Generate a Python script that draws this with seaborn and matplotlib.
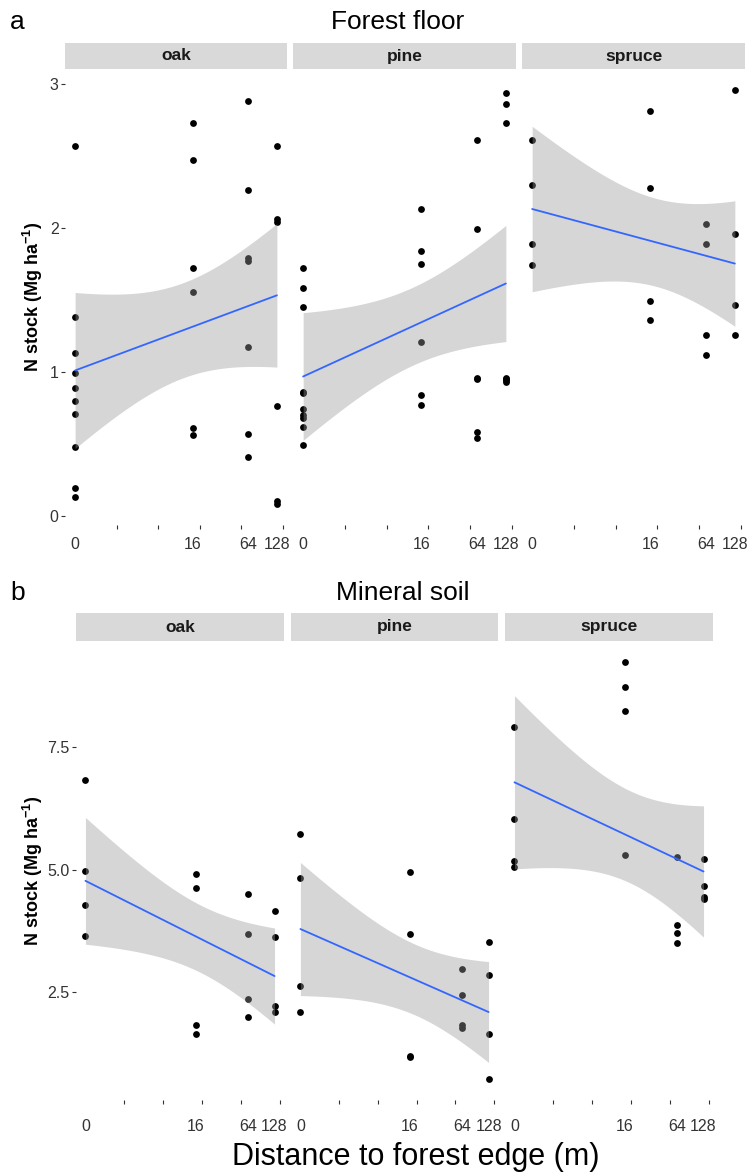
import math
import numpy as np
import pandas as pd
import matplotlib
matplotlib.use("Agg")
import matplotlib.pyplot as plt
import seaborn as sns

# ---- data: N stock (Mg ha-1) by distance to forest edge (m) ----
species = ["oak", "pine", "spruce"]
distance_breaks = [0, 16, 64, 128]
distance_labels = ["0", "16", "64", "128"]

# Forest floor
ff_oak = {0: [2.57, 1.38, 1.13, 0.99, 0.89, 0.80, 0.71, 0.48, 0.19, 0.13],
          16: [2.73, 2.47, 1.72, 1.555, 0.61, 0.56],
          64: [2.88, 2.26, 1.79, 1.77, 1.17, 0.57, 0.41],
          128: [2.57, 2.06, 2.04, 0.76, 0.10, 0.08]}
ff_pine = {0: [1.72, 1.58, 1.45, 0.86, 0.85, 0.74, 0.70, 0.68, 0.615, 0.495],
           16: [2.13, 1.84, 1.75, 1.21, 0.84, 0.77],
           64: [2.61, 1.995, 0.96, 0.95, 0.58, 0.54],
           128: [2.94, 2.86, 2.73, 0.96, 0.95, 0.94, 0.93]}
ff_spruce = {0: [2.61, 2.295, 1.885, 1.745],
             16: [2.81, 2.274, 1.49, 1.36],
             64: [2.03, 1.885, 1.255, 1.12],
             128: [2.96, 1.96, 1.465, 1.255]}

# Mineral soil
ms_oak = {0: [6.82, 4.96, 4.28, 3.64],
          16: [4.90, 4.63, 1.84, 1.65],
          64: [4.51, 3.69, 2.36, 1.99],
          128: [4.15, 3.63, 2.23, 2.09]}
ms_pine = {0: [5.73, 4.82, 2.63, 2.09],
           16: [4.95, 3.69, 1.21, 1.18],
           64: [2.97, 2.45, 1.83, 1.78],
           128: [3.53, 2.85, 1.65, 0.73]}
ms_spruce = {0: [7.90, 6.03, 5.18, 5.06],
             16: [9.23, 8.71, 8.22, 5.29],
             64: [5.25, 3.86, 3.70, 3.51],
             128: [5.22, 4.67, 4.45, 4.40]}

layers = ["Forest floor", "Mineral soil"]
panel_letters = ["a", "b"]
layer_data = {"Forest floor": [ff_oak, ff_pine, ff_spruce],
              "Mineral soil": [ms_oak, ms_pine, ms_spruce]}
y_breaks = {"Forest floor": [0, 1, 2, 3], "Mineral soil": [2.5, 5.0, 7.5]}
y_tick_labels = {"Forest floor": ["0", "1", "2", "3"],
                 "Mineral soil": ["2.5", "5.0", "7.5"]}

rows = []
for layer in layers:
    for sp, table in zip(species, layer_data[layer]):
        for dist, vals in table.items():
            for v in vals:
                rows.append((layer, sp, dist, v))
df = pd.DataFrame(rows, columns=["layer", "species", "distance", "n_stock"])
df["x"] = np.log(df["distance"] + 1.0)


# ---- linear fit with 95 % confidence band ----
def t_quantile(p, dof):
    xs = np.linspace(0.0, 30.0, 300001)
    c = math.gamma((dof + 1) / 2) / (math.sqrt(dof * math.pi) * math.gamma(dof / 2))
    pdf = c * (1 + xs ** 2 / dof) ** (-(dof + 1) / 2)
    cdf = 0.5 + np.concatenate([[0.0], np.cumsum((pdf[1:] + pdf[:-1]) / 2 * np.diff(xs))])
    return float(np.interp(p, cdf, xs))


def lm_band(x, y, grid):
    n = len(x)
    xb, yb = x.mean(), y.mean()
    sxx = ((x - xb) ** 2).sum()
    slope = ((x - xb) * (y - yb)).sum() / sxx
    icpt = yb - slope * xb
    resid = y - (icpt + slope * x)
    s = math.sqrt((resid ** 2).sum() / (n - 2))
    fit = icpt + slope * grid
    se = s * np.sqrt(1.0 / n + (grid - xb) ** 2 / sxx)
    t = t_quantile(0.975, n - 2)
    return fit, fit - t * se, fit + t * se


# ---- styling ----
sns.set_style("white")
plt.rcParams["font.family"] = ["Liberation Sans", "DejaVu Sans"]
plt.rcParams["mathtext.fontset"] = "custom"
plt.rcParams["mathtext.rm"] = "Liberation Sans"
plt.rcParams["mathtext.bf"] = "Liberation Sans:bold"

W, H = 752, 1176
fig = plt.figure(figsize=(W / 100, H / 100), dpi=100)
fig.patch.set_facecolor("white")


def box(x0, y0, x1, y1):
    return [x0 / W, 1 - y1 / H, (x1 - x0) / W, (y1 - y0) / H]


panel_x = {"Forest floor": [(65, 287), (293, 516), (522, 745)],
           "Mineral soil": [(76, 284), (291, 498), (505, 713)]}
panel_y = {"Forest floor": (69, 525), "Mineral soil": (641, 1100)}
strip_h = {"Forest floor": 26, "Mineral soil": 28}
title_pos = {"Forest floor": (398, 22, 10), "Mineral soil": (403, 593, 10)}
xlabel_pad = {"Forest floor": 8.5, "Mineral soil": 14.0}

text_col = "#333333"
xmin, xmax = df["x"].min(), df["x"].max()
xpad = 0.05 * (xmax - xmin)
grid = np.linspace(xmin, xmax, 80)

for li, layer in enumerate(layers):
    sub_layer = df[df["layer"] == layer]
    fits = {}
    lo_all, hi_all = [sub_layer["n_stock"].min()], [sub_layer["n_stock"].max()]
    for sp in species:
        sub = sub_layer[sub_layer["species"] == sp]
        fit, lo, hi = lm_band(sub["x"].to_numpy(), sub["n_stock"].to_numpy(), grid)
        fits[sp] = (fit, lo, hi)
        lo_all.append(lo.min())
        hi_all.append(hi.max())
    ymin, ymax = min(lo_all), max(hi_all)
    ypad = 0.05 * (ymax - ymin)

    y0, y1 = panel_y[layer]
    for si, sp in enumerate(species):
        x0, x1 = panel_x[layer][si]
        ax = fig.add_axes(box(x0, y0, x1, y1))
        sub = sub_layer[sub_layer["species"] == sp]
        sns.scatterplot(data=sub, x="x", y="n_stock", ax=ax, color="black",
                        s=24, linewidth=0, zorder=2, legend=False)
        fit, lo, hi = fits[sp]
        ax.fill_between(grid, lo, hi, color="#999999", alpha=0.4,
                        linewidth=0, zorder=3)
        sns.lineplot(x=grid, y=fit, ax=ax, color="#3366FF", linewidth=1.3,
                     zorder=4)
        ax.set_xlim(xmin - xpad, xmax + xpad)
        ax.set_ylim(ymin - ypad, ymax + ypad)
        ax.set_xlabel("")
        ax.set_ylabel("")
        for s in ax.spines.values():
            s.set_visible(False)
        ax.set_facecolor("white")

        ax.set_xticks(np.log(np.array(distance_breaks) + 1.0))
        ax.set_xticklabels(distance_labels)
        ax.set_xticks(np.arange(0, 6), minor=True)
        ax.tick_params(axis="x", which="major", length=0,
                       pad=xlabel_pad[layer], labelsize=11.5,
                       labelcolor=text_col)
        ax.tick_params(axis="x", which="minor", length=3, width=0.8,
                       color=text_col, direction="out", bottom=True)

        ax.set_yticks(y_breaks[layer])
        if si == 0:
            ax.set_yticklabels(y_tick_labels[layer])
            ax.tick_params(axis="y", length=3, width=0.8, color=text_col,
                           pad=1.5, labelsize=11.5, labelcolor=text_col,
                           left=True)
        else:
            ax.tick_params(axis="y", left=False, labelleft=False)

        # facet strip
        sax = fig.add_axes(box(x0, y0 - strip_h[layer], x1, y0))
        sax.set_facecolor("#D9D9D9")
        sax.set_xticks([])
        sax.set_yticks([])
        for s in sax.spines.values():
            s.set_visible(False)
        sax.text(0.5, 0.5, sp, ha="center", va="center", fontsize=12.5,
                 fontweight="bold", color="#1A1A1A", transform=sax.transAxes)

    tx, ty, lx = title_pos[layer]
    fig.text(tx / W, 1 - ty / H, layer, ha="center", va="center",
             fontsize=19, color="black")
    fig.text(lx / W, 1 - ty / H, panel_letters[li], ha="left", va="center",
             fontsize=19, color="black")
    fig.text(33 / W, 1 - ((y0 + y1) / 2) / H,
             r"N stock (Mg ha$^{\mathbf{-1}}$)", rotation=90, ha="center",
             va="center", fontsize=13, fontweight="bold", color="black")

fig.text(416 / W, 1 - 1157 / H, "Distance to forest edge (m)", ha="center",
         va="center", fontsize=22, color="black")

fig.savefig("out.png", dpi=100, facecolor="white")
